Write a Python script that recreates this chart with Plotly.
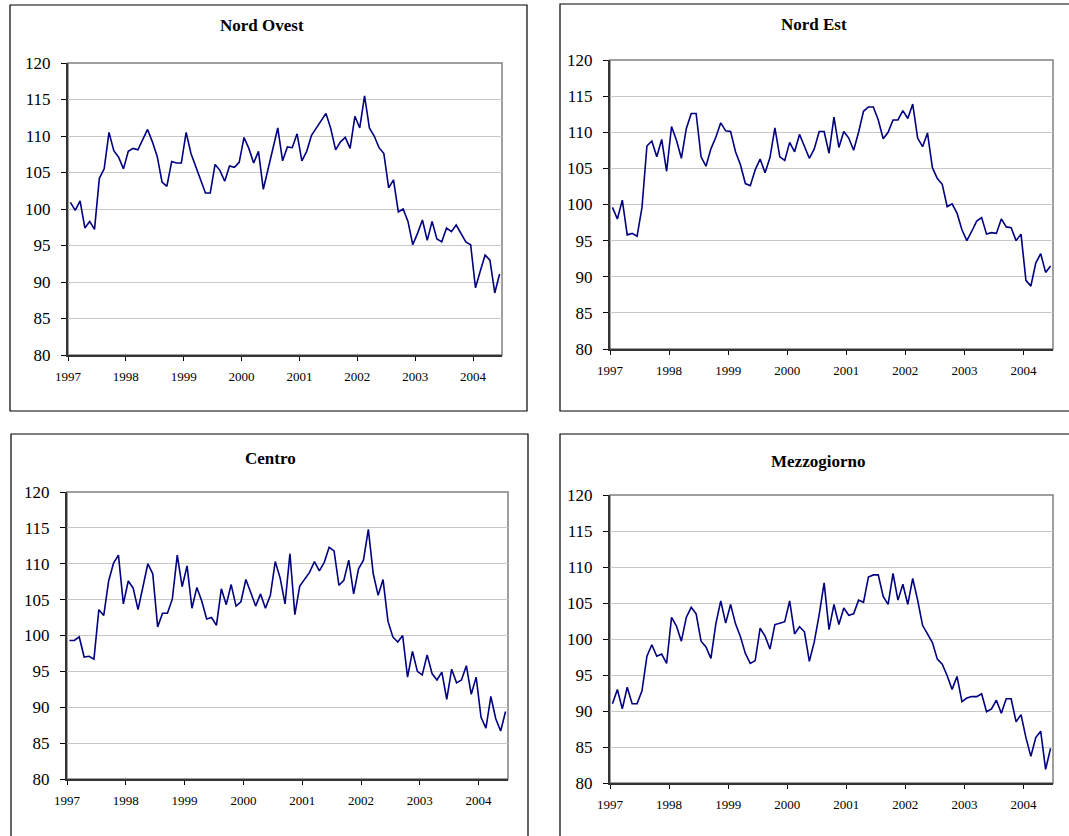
import plotly.graph_objects as go

W, H = 1069, 836

# Monthly data, Jan 1997 - Jun 2004
start_year = 1997
n_months = 90
months = [f"{start_year + i // 12}-{i % 12 + 1:02d}" for i in range(n_months)]
year_ticks = [1997, 1998, 1999, 2000, 2001, 2002, 2003, 2004]
year_labels = ["1997", "1998", "1999", "2000", "2001", "2002", "2003", "2004"]
y_ticks = [80, 85, 90, 95, 100, 105, 110, 115, 120]

nord_ovest = [
    100.9, 99.8, 101.1, 97.4, 98.3, 97.2, 104.2, 105.5, 110.5, 108.0, 107.1, 105.5,
    107.9, 108.3, 108.1, 109.6, 110.9, 109.2, 107.2, 103.7, 103.1, 106.5, 106.3, 106.3,
    110.5, 107.6, 105.9, 104.0, 102.2, 102.2, 106.1, 105.3, 103.8, 105.9, 105.7, 106.4,
    109.8, 108.3, 106.3, 107.9, 102.7, 105.5, 108.5, 111.1, 106.6, 108.5, 108.4, 110.3,
    106.6, 107.9, 110.1, 111.1, 112.1, 113.1, 111.0, 108.1, 109.2, 109.8, 108.3, 112.7,
    111.1, 115.5, 111.1, 110.0, 108.4, 107.6, 102.9, 104.0, 99.6, 100.0, 98.3, 95.1,
    96.7, 98.5, 95.7, 98.3, 95.9, 95.5, 97.4, 96.9, 97.8, 96.7, 95.5, 95.1,
    89.2, 91.5, 93.7, 93.0, 88.5, 91.1,
]

nord_est = [
    99.6, 98.0, 100.6, 95.8, 96.0, 95.6, 99.6, 108.1, 108.8, 106.6, 109.0, 104.6,
    110.8, 108.9, 106.4, 110.5, 112.6, 112.6, 106.6, 105.3, 107.7, 109.3, 111.3, 110.2,
    110.1, 107.3, 105.5, 102.9, 102.6, 104.8, 106.3, 104.4, 106.5, 110.6, 106.6, 106.1,
    108.6, 107.3, 109.7, 108.1, 106.4, 107.7, 110.1, 110.1, 107.1, 112.1, 107.9, 110.1,
    109.2, 107.5, 110.0, 112.9, 113.5, 113.5, 111.7, 109.1, 110.0, 111.7, 111.7, 113.0,
    111.9, 113.9, 109.2, 108.0, 109.9, 105.1, 103.6, 102.8, 99.7, 100.1, 98.8, 96.5,
    95.0, 96.3, 97.7, 98.2, 95.9, 96.1, 96.0, 98.0, 96.9, 96.8, 95.0, 95.9,
    89.5, 88.7, 91.9, 93.2, 90.6, 91.5,
]

centro = [
    99.3, 99.3, 99.8, 97.0, 97.1, 96.7, 103.6, 102.8, 107.6, 110.1, 111.2, 104.4,
    107.6, 106.6, 103.6, 106.8, 110.0, 108.6, 101.2, 103.1, 103.1, 105.1, 111.2, 106.8,
    109.7, 103.8, 106.7, 104.8, 102.3, 102.5, 101.4, 106.5, 104.3, 107.1, 104.1, 104.7,
    107.8, 106.0, 104.1, 105.8, 103.8, 105.6, 110.3, 108.0, 104.4, 111.4, 102.9, 106.9,
    107.8, 108.8, 110.3, 109.0, 110.2, 112.3, 111.8, 107.0, 107.7, 110.5, 105.8, 109.3,
    110.5, 114.8, 108.6, 105.6, 107.8, 102.0, 99.8, 99.1, 100.0, 94.2, 97.8, 95.0,
    94.5, 97.3, 94.7, 93.8, 94.9, 91.1, 95.3, 93.4, 93.8, 95.8, 91.8, 94.2,
    88.6, 87.1, 91.5, 88.4, 86.7, 89.4,
]

mezzogiorno = [
    91.0, 93.0, 90.3, 93.3, 91.0, 91.0, 92.8, 97.6, 99.2, 97.6, 97.9, 96.6,
    103.0, 101.8, 99.7, 103.0, 104.4, 103.5, 99.7, 98.9, 97.3, 102.1, 105.3, 102.2,
    104.8, 102.1, 100.3, 98.0, 96.6, 97.0, 101.5, 100.4, 98.6, 102.0, 102.2, 102.4,
    105.3, 100.7, 101.7, 101.0, 96.9, 99.6, 103.4, 107.8, 101.3, 104.8, 102.0, 104.3,
    103.3, 103.5, 105.4, 105.1, 108.6, 108.9, 108.9, 105.9, 104.8, 109.1, 105.4, 107.6,
    104.8, 108.4, 105.4, 101.9, 100.7, 99.5, 97.2, 96.5, 94.9, 93.0, 94.8, 91.3,
    91.8, 92.0, 92.0, 92.4, 89.9, 90.3, 91.5, 89.7, 91.7, 91.7, 88.5, 89.5,
    86.3, 83.7, 86.3, 87.2, 81.9, 84.8,
]

titles = ["Nord Ovest", "Nord Est", "Centro", "Mezzogiorno"]
series = [nord_ovest, nord_est, centro, mezzogiorno]

# x position of each month: middle of the month, in decimal years
x_vals = [int(m[:4]) + (int(m[5:]) - 0.5) / 12 for m in months]

# layout geometry in pixels
plot_boxes = [  # x0, x1, y0(top), y1(bottom)
    (68, 502, 63, 355),
    (610, 1053, 60, 349),
    (67, 508, 492, 779),
    (610, 1053, 495, 783),
]
frame_boxes = [
    (10, 527, 5, 411),
    (560, 1085, 4, 411),
    (11, 528, 434, 850),
    (560, 1085, 434, 850),
]
title_pos = [(262, 26), (814, 25), (270, 459), (818, 461)]

SERIF = "Times New Roman, Liberation Serif, serif"

fig = go.Figure()
layout = dict(
    width=W, height=H,
    margin=dict(l=0, r=0, t=0, b=0, autoexpand=False),
    paper_bgcolor="white", plot_bgcolor="white",
    showlegend=False,
    shapes=[], annotations=[],
)

def px_x(p):
    return p / W

def px_y(p):
    return 1 - p / H

for k in range(4):
    ax = "" if k == 0 else str(k + 1)
    x0, x1, y0, y1 = plot_boxes[k]
    fig.add_trace(go.Scatter(
        x=x_vals, y=series[k], mode="lines",
        line=dict(color="#000080", width=1.6),
        xaxis="x" + ax, yaxis="y" + ax,
        hoverinfo="skip",
    ))
    layout["xaxis" + ax] = dict(
        domain=[px_x(x0), px_x(x1)], anchor="y" + ax,
        range=[1997, 2004.5], tickmode="array",
        tickvals=year_ticks, ticktext=year_labels,
        ticks="outside", ticklen=4, tickwidth=1, tickcolor="#000000",
        showline=True, linecolor="#333333", linewidth=2,
        showgrid=False, zeroline=False, automargin=False,
        tickfont=dict(family=SERIF, size=13, color="#000000"),
        ticklabelstandoff=4,
    )
    # overlay axis giving the inner half of the crossing ticks
    ov = str(k + 5)
    layout["xaxis" + ov] = dict(
        domain=[px_x(x0), px_x(x1)], anchor="y" + ax, overlaying="x" + ax,
        range=[1997, 2004.5], tickmode="array", tickvals=year_ticks,
        ticks="inside", ticklen=4, tickwidth=1, tickcolor="#000000",
        showticklabels=False, showline=False, showgrid=False,
        zeroline=False, automargin=False,
    )
    layout["yaxis" + ax] = dict(
        domain=[px_y(y1), px_y(y0)], anchor="x" + ax,
        range=[80, 120], tickmode="array", tickvals=y_ticks,
        ticks="outside", ticklen=5, tickwidth=1, tickcolor="#000000",
        showline=True, linecolor="#333333", linewidth=2,
        showgrid=True, gridcolor="#c8c8c8", gridwidth=1,
        zeroline=False, automargin=False,
        tickfont=dict(family=SERIF, size=17, color="#000000"),
        ticklabelstandoff=7,
    )
    # plot area border (gray top/right)
    layout["shapes"].append(dict(
        type="rect", xref="x" + ax + " domain", yref="y" + ax + " domain",
        x0=0, x1=1, y0=0, y1=1, line=dict(color="#808080", width=1.5),
        layer="below",
    ))
    # outer frame
    fx0, fx1, fy0, fy1 = frame_boxes[k]
    layout["shapes"].append(dict(
        type="rect", xref="paper", yref="paper",
        x0=px_x(fx0), x1=px_x(fx1), y0=px_y(fy1), y1=px_y(fy0),
        line=dict(color="#000000", width=1.2), layer="below",
    ))
    tx, ty = title_pos[k]
    layout["annotations"].append(dict(
        text="<b>" + titles[k] + "</b>", xref="paper", yref="paper",
        x=px_x(tx), y=px_y(ty), xanchor="center", yanchor="middle",
        showarrow=False, font=dict(family=SERIF, size=17, color="#000000"),
    ))

fig.update_layout(**layout)
fig.write_html(
    "out.html",
    config={"displayModeBar": False},
    post_script="document.body.style.margin='0';document.body.style.overflow='hidden';",
)
